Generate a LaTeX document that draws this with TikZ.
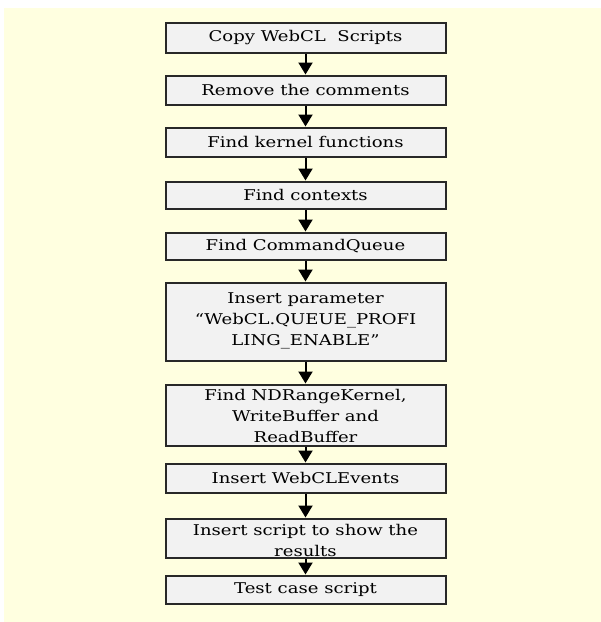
\documentclass[tikz,border=0pt]{standalone}
\usepackage{fontspec}
\setmainfont{DejaVu Serif}[FakeStretch=1.22]
\usetikzlibrary{arrows.meta}
\definecolor{bg}{RGB}{255,255,224}
\definecolor{boxfill}{RGB}{242,242,242}
\definecolor{boxline}{RGB}{40,40,40}
\begin{document}
\begin{tikzpicture}[x=1pt,y=-1pt,
  stepbox/.style={draw=boxline, line width=2pt, fill=boxfill,
    minimum width=280pt, inner sep=0pt},
  steptext/.style={font=\fontsize{14.8}{21}\selectfont, align=center,
    inner sep=0pt, text=black},
  flow/.style={draw=black, line width=2pt,
    -{Triangle[width=14pt,length=12pt]}}]
\useasboundingbox (0,0) rectangle (601,622);
\fill[bg] (4,8) rectangle (601,622);

% boxes of the flow
\node[stepbox, minimum height=30pt] (b1)  at (305.5,37.5) {};
\node[stepbox, minimum height=29pt] (b2)  at (305.5,90) {};
\node[stepbox, minimum height=29pt] (b3)  at (305.5,142) {};
\node[stepbox, minimum height=27pt] (b4)  at (305.5,195) {};
\node[stepbox, minimum height=27pt] (b5)  at (305.5,246) {};
\node[stepbox, minimum height=78pt] (b6)  at (305.5,321.5) {};
\node[stepbox, minimum height=61pt] (b7)  at (305.5,415) {};
\node[stepbox, minimum height=29pt] (b8)  at (305.5,478) {};
\node[stepbox, minimum height=39pt] (b9)  at (305.5,538) {};
\node[stepbox, minimum height=28pt] (b10) at (305.5,589.5) {};

% labels
\node[steptext] (t1)  at (b1)  {Copy WebCL~ Scripts};
\node[steptext] (t2)  at (b2)  {Remove the comments};
\node[steptext] (t3)  at (b3)  {Find kernel functions};
\node[steptext] (t4)  at (b4)  {Find contexts};
\node[steptext] (t5)  at (b5)  {Find CommandQueue};
\node[steptext] (t6)  at (305.5,321) {Insert parameter\\“WebCL.QUEUE\_PROFI\\LING\_ENABLE”};
\node[steptext] (t7)  at (305.5,416) {Find NDRangeKernel,\\WriteBuffer and\\ReadBuffer};
\node[steptext] (t8)  at (b8)  {Insert WebCLEvents};
\node[steptext] (t9)  at (305.5,540) {Insert script to show the\\results};
\node[steptext] (t10) at (b10) {Test case script};

% connectors
\draw[flow] (b1.south) -- (b2.north);
\draw[flow] (b2.south) -- (b3.north);
\draw[flow] (b3.south) -- (b4.north);
\draw[flow] (b4.south) -- (b5.north);
\draw[flow] (b5.south) -- (b6.north);
\draw[flow] (b6.south) -- (b7.north);
\draw[flow] (b7.south) -- (b8.north);
\draw[flow] (b8.south) -- (b9.north);
\draw[flow] (b9.south) -- (b10.north);
\end{tikzpicture}
\end{document}
